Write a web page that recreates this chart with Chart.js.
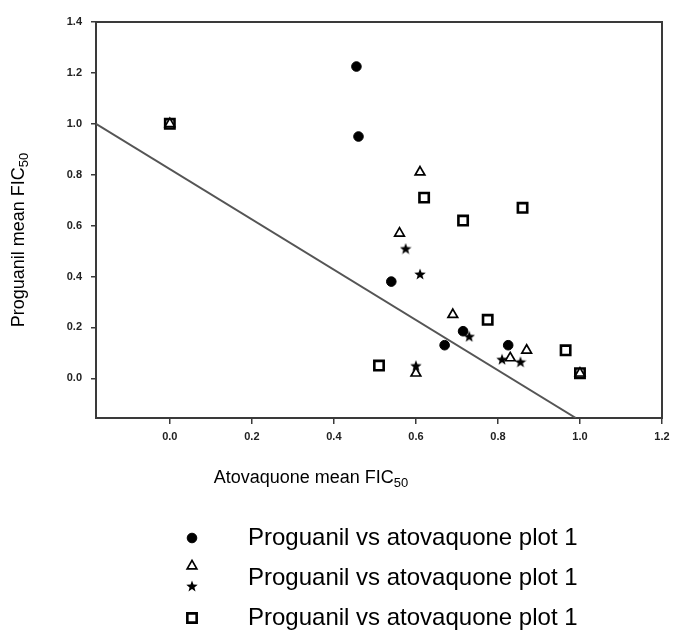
<!DOCTYPE html>
<html><head><meta charset="utf-8">
<script src="https://cdn.jsdelivr.net/npm/chart.js@4/dist/chart.umd.min.js"></script>
<style>html,body{margin:0;padding:0;background:#fff;}#wrap{width:673px;height:637px;}</style>
</head><body><div id="wrap"><canvas id="c" width="673" height="637"></canvas></div>
<script>
// ---- data ----
const xTicks = [0.0, 0.2, 0.4, 0.6, 0.8, 1.0, 1.2];
const yTicks = [0.0, 0.2, 0.4, 0.6, 0.8, 1.0, 1.2, 1.4];
const xRange = [-0.18, 1.2];
const yRange = [-0.156, 1.4];

const circleX = [0.455, 0.46, 0.54, 0.715, 0.67, 0.825];
const circleY = [1.225, 0.95, 0.38, 0.185, 0.13, 0.13];

const triangleX = [0.0, 0.61, 0.56, 0.69, 0.87, 0.83, 0.60, 1.0];
const triangleY = [1.0, 0.81, 0.57, 0.25, 0.11, 0.08, 0.02, 0.02];

const starX = [0.575, 0.61, 0.73, 0.81, 0.855, 0.60];
const starY = [0.51, 0.41, 0.165, 0.075, 0.065, 0.05];

const squareX = [0.0, 0.62, 0.86, 0.715, 0.775, 0.965, 1.0, 0.51];
const squareY = [1.0, 0.71, 0.67, 0.62, 0.23, 0.11, 0.02, 0.05];

const lineX = [-0.18, 0.99];
const lineY = [1.0, -0.156];

const legendLabels = ["Proguanil vs atovaquone plot 1", "Proguanil vs atovaquone plot 1", "Proguanil vs atovaquone plot 1"];
const xTitle = ["Atovaquone mean FIC", "50"];
const yTitle = ["Proguanil mean FIC", "50"];

// ---- helpers ----
const pts = (xs, ys) => xs.map((x, i) => ({x: x, y: ys[i]}));
function makeStar(size) {
  const c = document.createElement('canvas'); c.width = c.height = size;
  const g = c.getContext('2d'); g.fillStyle = '#000'; g.beginPath();
  const R = size / 2, r = R * 0.42, cx = size / 2, cy = size / 2 + 0.6;
  for (let i = 0; i < 10; i++) {
    const a = -Math.PI / 2 + i * Math.PI / 5, rr = i % 2 ? r : R;
    g.lineTo(cx + rr * Math.cos(a), cy + rr * Math.sin(a));
  }
  g.closePath(); g.fill(); return c;
}
const starImg = makeStar(12);
const FONT = "'Liberation Sans', Arial, Helvetica, sans-serif";

const styles = [
  {pointStyle: 'circle', radius: 4.8, bw: 1, bg: '#000', bc: '#000'},
  {pointStyle: 'triangle', radius: 5.6, bw: 1.7, bg: '#fff', bc: '#000'},
  {pointStyle: starImg, radius: 6, bw: 1, bg: '#000', bc: '#000'},
  {pointStyle: 'rect', radius: 6.6, bw: 2.6, bg: '#fff', bc: '#000'}
];
const seriesPts = [pts(circleX, circleY), pts(triangleX, triangleY), pts(starX, starY), pts(squareX, squareY)];

function drawSub(ctx, parts, x, y, size, align) {
  ctx.save();
  ctx.fillStyle = '#000';
  ctx.textBaseline = 'middle';
  ctx.font = size + 'px ' + FONT;
  const w1 = ctx.measureText(parts[0]).width;
  ctx.font = (size * 0.72) + 'px ' + FONT;
  const w2 = ctx.measureText(parts[1]).width;
  let x0 = align === 'center' ? x - (w1 + w2) / 2 : x;
  ctx.textAlign = 'left';
  ctx.font = size + 'px ' + FONT;
  ctx.fillText(parts[0], x0, y);
  ctx.font = (size * 0.72) + 'px ' + FONT;
  ctx.fillText(parts[1], x0 + w1, y + size * 0.28);
  ctx.restore();
}

const framePlugin = {
  id: 'frame',
  beforeDatasetsDraw(chart) {
    const {ctx, chartArea: a} = chart;
    ctx.save(); ctx.strokeStyle = '#3a3a3a'; ctx.lineWidth = 2;
    ctx.strokeRect(a.left, a.top, a.right - a.left, a.bottom - a.top);
    ctx.restore();
  },
  afterDraw(chart) {
    const ctx = chart.ctx;
    // axis titles
    drawSub(ctx, xTitle, 311, 478, 18, 'center');
    ctx.save(); ctx.translate(19, 240); ctx.rotate(-Math.PI / 2);
    drawSub(ctx, yTitle, 0, 0, 18, 'center');
    ctx.restore();
    // legend
    const markerX = 192;
    const markerY = [538, 566, 586, 618];
    for (let i = 0; i < 4; i++) {
      const s = styles[i];
      ctx.save();
      ctx.fillStyle = s.bg; ctx.strokeStyle = s.bc; ctx.lineWidth = s.bw;
      Chart.helpers.drawPoint(ctx, {pointStyle: s.pointStyle, radius: s.radius, borderWidth: s.bw, rotation: 0}, markerX, markerY[i]);
      ctx.restore();
    }
    const textY = [538, 578, 618];
    ctx.save(); ctx.fillStyle = '#000'; ctx.font = '24px ' + FONT;
    ctx.textBaseline = 'middle'; ctx.textAlign = 'left';
    legendLabels.forEach((t, i) => ctx.fillText(t, 248, textY[i]));
    ctx.restore();
  }
};

const datasets = [{
  type: 'line', data: pts(lineX, lineY), borderColor: '#555', borderWidth: 2,
  pointRadius: 0, fill: false, tension: 0, order: 10
}];
seriesPts.forEach((d, i) => {
  const s = styles[i];
  datasets.push({
    type: 'scatter', data: d, pointStyle: s.pointStyle, pointRadius: s.radius,
    pointBorderWidth: s.bw, backgroundColor: s.bg, borderColor: s.bc, order: i
  });
});

new Chart(document.getElementById('c'), {
  data: {datasets},
  options: {
    responsive: false, animation: false, devicePixelRatio: 1,
    layout: {padding: {left: 0, top: 22, right: 11, bottom: 0}},
    plugins: {legend: {display: false}, tooltip: {enabled: false}},
    scales: {
      x: {
        type: 'linear', min: xRange[0], max: xRange[1],
        afterBuildTicks: s => { s.ticks = xTicks.map(v => ({value: v})); },
        afterFit: s => { s.height = 637 - 418; s.paddingRight = 0; s.paddingLeft = 0; },
        ticks: {callback: v => Number(v).toFixed(1), font: {family: FONT, size: 11, weight: 'bold'}, color: '#222', padding: 6, maxRotation: 0, autoSkip: false},
        grid: {display: true, drawOnChartArea: false, drawTicks: true, tickLength: 6, color: '#3a3a3a', lineWidth: 1.5},
        border: {display: true, color: '#3a3a3a', width: 2}
      },
      y: {
        type: 'linear', min: yRange[0], max: yRange[1],
        afterBuildTicks: s => { s.ticks = yTicks.map(v => ({value: v})); },
        afterFit: s => { s.width = 96; s.paddingTop = 0; s.paddingBottom = 0; },
        ticks: {callback: v => Number(v).toFixed(1), font: {family: FONT, size: 11, weight: 'bold'}, color: '#222', padding: 9, autoSkip: false},
        grid: {display: true, drawOnChartArea: false, drawTicks: true, tickLength: 5, color: '#3a3a3a', lineWidth: 1.5},
        border: {display: true, color: '#3a3a3a', width: 2}
      }
    }
  },
  plugins: [framePlugin]
});
</script></body></html>
